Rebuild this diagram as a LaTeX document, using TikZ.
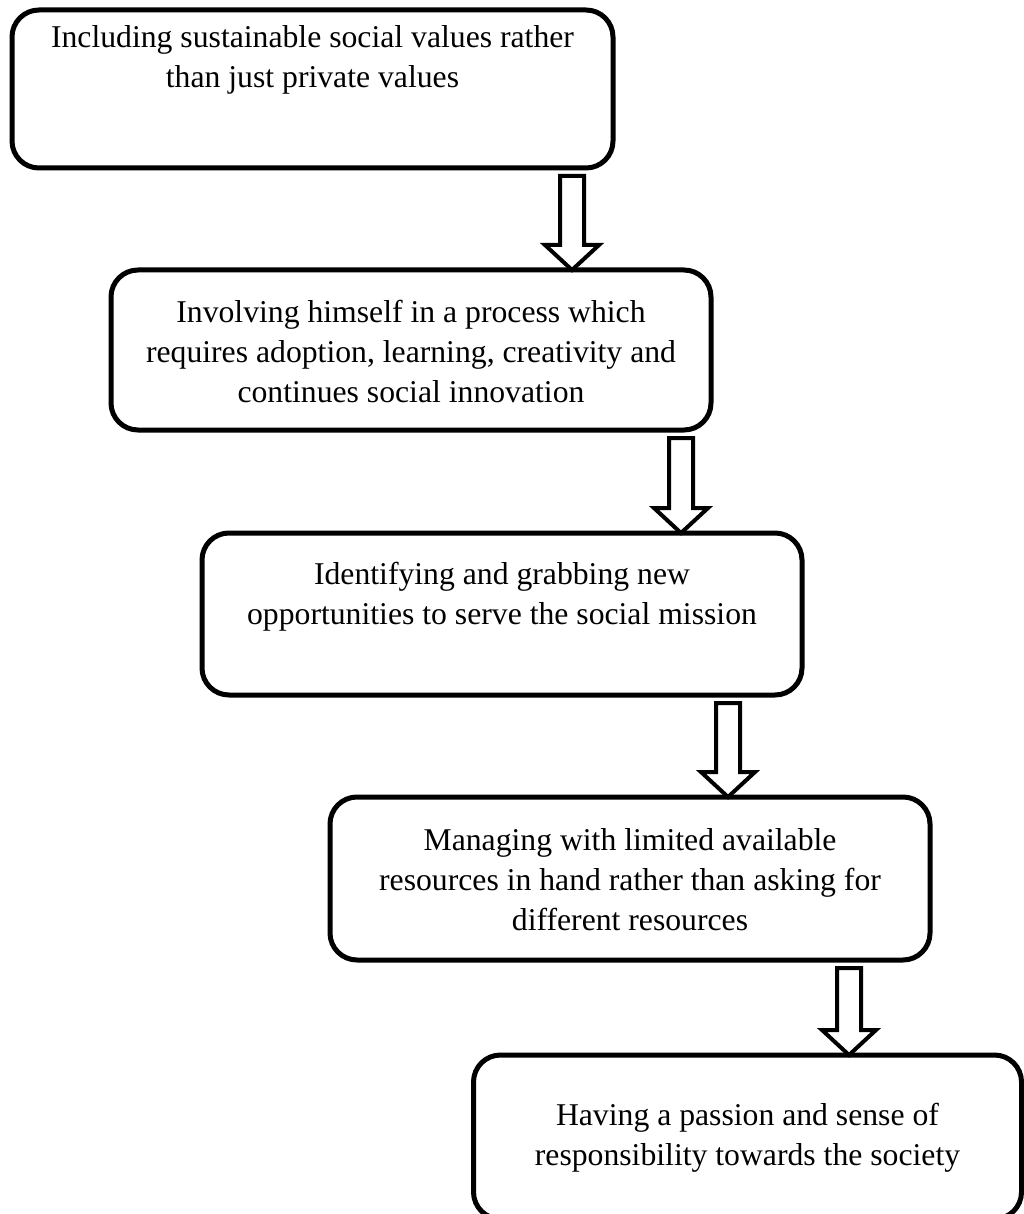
\documentclass[tikz,border=0pt]{standalone}
\usepackage{fontspec}
\setmainfont{Liberation Serif}
\usetikzlibrary{calc}

\tikzset{
  box/.style={draw=black, line width=5pt, rounded corners=27pt, fill=white,
    inner sep=0pt, outer sep=0pt},
  lbl/.style={align=center, inner sep=0pt, anchor=north,
    font=\fontsize{31.7}{40}\selectfont},
  harrow/.style={draw=black, line width=4pt, fill=white, line join=miter},
}

% hollow block arrow from the bottom of box #1 to the top of box #2 at x = #3
\newcommand\hollowarrow[3]{%
  \draw[harrow] let \p1=(#1.south), \p2=(#2.north), \p3=(#3,0) in
    (\x3-12pt,\y1-8pt) -- (\x3+12pt,\y1-8pt) -- (\x3+12pt,\y2+25pt)
    -- (\x3+27pt,\y2+25pt) -- (\x3,\y2) -- (\x3-27pt,\y2+25pt)
    -- (\x3-12pt,\y2+25pt) -- cycle;}

\begin{document}
\begin{tikzpicture}[x=1pt, y=-1pt]
  \useasboundingbox (0,0) rectangle (1024,1214);
  \clip (0,0) rectangle (1024,1214);

  % boxes
  \node[box, minimum width=601pt, minimum height=158pt] (b1) at (312.5,89) {};
  \node[box, minimum width=600pt, minimum height=160pt] (b2) at (411,350) {};
  \node[box, minimum width=600pt, minimum height=162pt] (b3) at (502,614) {};
  \node[box, minimum width=600pt, minimum height=163pt] (b4) at (630,878.5) {};
  \node[box, minimum width=548pt, minimum height=164pt] (b5) at (747.5,1137) {};

  % texts
  \node[lbl] (t1) at ([yshift=-15pt]b1.north)
    {Including sustainable social values rather\\than just private values};
  \node[lbl] (t2) at ([yshift=-30pt]b2.north)
    {Involving himself in a process which\\requires adoption, learning, creativity and\\continues social innovation};
  \node[lbl] (t3) at ([yshift=-29pt]b3.north)
    {Identifying and grabbing new\\opportunities to serve the social mission};
  \node[lbl] (t4) at ([yshift=-31pt]b4.north)
    {Managing with limited available\\resources in hand rather than asking for\\different resources};
  \node[lbl] (t5) at ([yshift=-48pt]b5.north)
    {Having a passion and sense of\\responsibility towards the society};

  % connectors
  \hollowarrow{b1}{b2}{572}
  \hollowarrow{b2}{b3}{681}
  \hollowarrow{b3}{b4}{728}
  \hollowarrow{b4}{b5}{849}
\end{tikzpicture}
\end{document}
